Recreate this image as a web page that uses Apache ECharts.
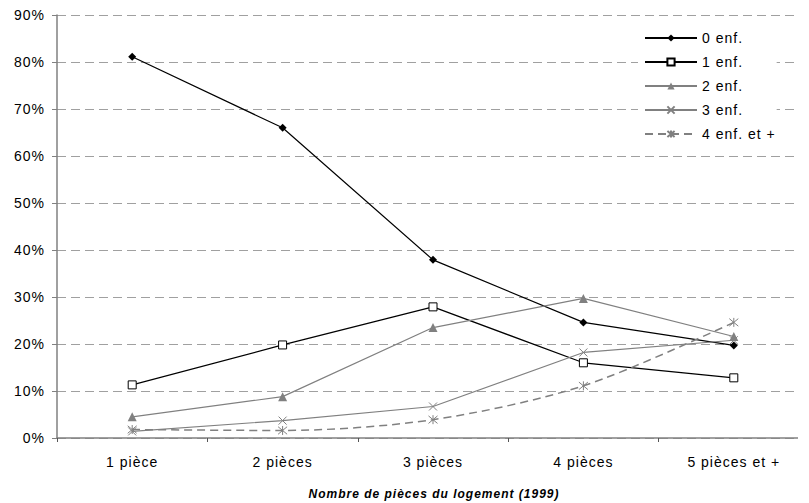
<!DOCTYPE html>
<html><head><meta charset="utf-8">
<script src="https://cdn.jsdelivr.net/npm/echarts@6/dist/echarts.min.js"></script>
<style>html,body{margin:0;padding:0;background:#fff}#c{width:809px;height:503px;overflow:hidden}
#c svg text{letter-spacing:1px}</style>
</head><body><div id="c"></div>
<script>
const categories = ['1 pièce', '2 pièces', '3 pièces', '4 pièces', '5 pièces et +'];
const enf0 = [81.1, 66.0, 37.9, 24.6, 19.7];
const enf1 = [11.3, 19.8, 27.9, 16.0, 12.8];
const enf2 = [4.5, 8.8, 23.5, 29.7, 21.6];
const enf3 = [1.4, 3.7, 6.7, 18.2, 20.8];
const enf4 = [1.8, 1.6, 3.9, 11.1, 24.6];
const seriesNames = ['0 enf.', '1 enf.', '2 enf.', '3 enf.', '4 enf. et +'];
const yTicks = [0, 10, 20, 30, 40, 50, 60, 70, 80, 90];
const axisTitle = 'Nombre de pièces du logement (1999)';

const FONT = '"Liberation Sans", Arial, sans-serif';
const gray = '#808080';
const xPath = 'path://M0,0L10,10M10,0L0,10';
const starPath = 'path://M0,0L10,10M10,0L0,10M5,-1L5,11';

const chart = echarts.init(document.getElementById('c'), null, { renderer: 'svg' });
chart.setOption({
  animation: false,
  textStyle: { fontFamily: FONT },
  grid: { left: 57, width: 762, top: 15, height: 423, containLabel: false },
  legend: {
    orient: 'vertical', left: 638, top: 27,
    itemWidth: 52, itemHeight: 9, itemGap: 10,
    backgroundColor: '#fff', padding: [4, 12, 4, 6],
    textStyle: { fontFamily: FONT, fontSize: 14, lineHeight: 14, color: '#000' },
    data: seriesNames
  },
  xAxis: {
    type: 'category', data: categories, boundaryGap: true,
    axisLine: { lineStyle: { color: gray, width: 1.5 } },
    axisTick: { show: true, length: 4, inside: false, lineStyle: { color: '#555' } },
    axisLabel: { fontFamily: FONT, fontSize: 14, color: '#000', margin: 17 },
    splitLine: { show: false }
  },
  yAxis: {
    type: 'value', min: yTicks[0], max: yTicks[yTicks.length - 1], interval: 10,
    axisLine: { show: true, lineStyle: { color: gray, width: 1.5 } },
    axisTick: { show: true, length: 5, lineStyle: { color: gray } },
    axisLabel: { fontFamily: FONT, fontSize: 14, color: '#000', margin: 12, formatter: '{value}%' },
    splitLine: { show: true, lineStyle: { color: '#a0a0a0', type: [9, 5], width: 1 } }
  },
  graphic: [
    { type: 'rect', left: 798, top: 0, shape: { width: 20, height: 503 }, style: { fill: '#fff' }, z: 100 },
    { type: 'text', x: 434, y: 494, style: { text: axisTitle, font: 'italic bold 12px ' + FONT, fill: '#000', align: 'center', verticalAlign: 'middle' } }
  ],
  series: [
    { name: seriesNames[0], type: 'line', data: enf0, symbol: 'diamond', symbolSize: 8,
      lineStyle: { color: '#000', width: 1.2 }, itemStyle: { color: '#000' } },
    { name: seriesNames[1], type: 'line', data: enf1, symbol: 'rect', symbolSize: 8,
      lineStyle: { color: '#000', width: 1.2 }, itemStyle: { color: '#fff', borderColor: '#000', borderWidth: 1 } },
    { name: seriesNames[2], type: 'line', data: enf2, symbol: 'triangle', symbolSize: 9,
      lineStyle: { color: gray, width: 1.2 }, itemStyle: { color: gray } },
    { name: seriesNames[3], type: 'line', data: enf3, symbol: xPath, symbolSize: 8,
      lineStyle: { color: gray, width: 1.2 }, itemStyle: { color: gray, borderColor: gray, borderWidth: 1 } },
    { name: seriesNames[4], type: 'line', data: enf4, symbol: starPath, symbolSize: 9, smooth: 0.3,
      lineStyle: { color: gray, width: 1.5, type: [8, 5] }, itemStyle: { color: gray, borderColor: gray, borderWidth: 1 } }
  ]
});
</script></body></html>
